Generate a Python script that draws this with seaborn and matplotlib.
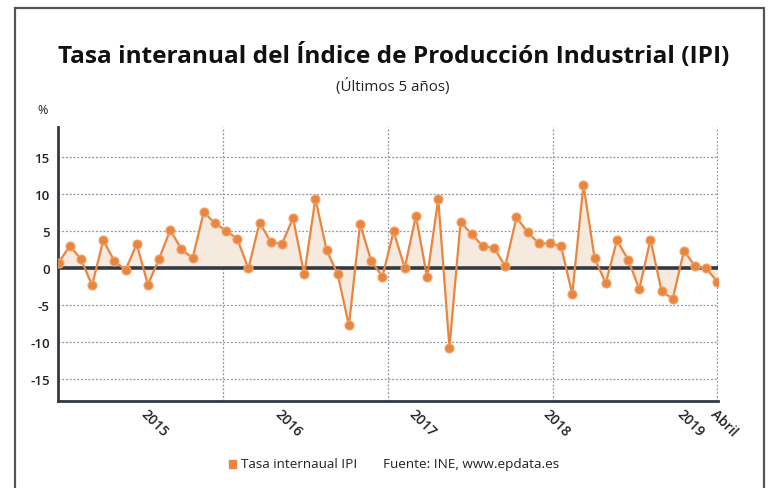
import matplotlib
matplotlib.use("Agg")
import matplotlib.pyplot as plt
import seaborn as sns
import pandas as pd
from matplotlib.patches import Rectangle

# monthly year-on-year IPI rate, May 2014 .. April 2019
tasa = [0.7, 2.9, 1.2, -2.4, 3.7, 0.9, -0.3, 3.2, -2.3, 1.2,
        5.1, 2.5, 1.3, 7.5, 6.0, 5.0, 3.9, -0.1, 6.1, 3.5,
        3.2, 6.7, -0.9, 9.3, 2.4, -0.9, -7.8, 5.9, 0.9, -1.2,
        4.9, 0.0, 7.0, -1.3, 9.3, -10.8, 6.2, 4.5, 2.9, 2.7,
        0.2, 6.8, 4.8, 3.3, 3.3, 2.9, -3.6, 11.2, 1.3, -2.1,
        3.7, 1.1, -2.9, 3.8, -3.2, -4.2, 2.3, 0.2, -0.1, -1.9]
meses = pd.date_range("2014-05-01", periods=len(tasa), freq="MS")
tick_labels = ["2015", "2016", "2017", "2018", "2019", "Abril"]
tick_pos = [8, 20, 32, 44, 56, 59]
vgrid_pos = [14.75, 29.5, 44.25, 59]
y_ticks = [-15, -10, -5, 0, 5, 10, 15]

df = pd.DataFrame({"idx": range(len(tasa)), "mes": meses, "tasa": tasa})

sns.set_style("white")
plt.rcParams["font.family"] = ["Open Sans", "DejaVu Sans"]

naranja = "#e8863f"
oscuro = "#333a44"
grid_c = "#8a94a6"

fig = plt.figure(figsize=(7.72, 4.89), dpi=100)
ax = fig.add_axes([58 / 772, 1 - 402 / 489, 660 / 772, 274 / 489])

ax.fill_between(df["idx"], df["tasa"], 0, color="#f6e9de", zorder=1, lw=0)
for y in y_ticks:
    if y != 0:
        ax.axhline(y, color=grid_c, lw=0.9, ls=(0, (1.5, 1.5)), zorder=0)
for x in vgrid_pos:
    ax.axvline(x, color=grid_c, lw=0.9, ls=(0, (1.5, 1.5)), zorder=0)
ax.axhline(0, color=oscuro, lw=2.6, zorder=2)

sns.lineplot(data=df, x="idx", y="tasa", ax=ax, color=naranja, lw=1.6,
             marker="o", markersize=6.5, markeredgecolor="#f2a56e",
             markeredgewidth=0.8, zorder=3)

ax.set_xlim(-0.05, 59.05)
ax.set_ylim(-18, 19)
ax.set_yticks(y_ticks)
ax.set_yticklabels([str(v) for v in y_ticks], fontsize=9.5, color="#222",
                   fontweight="semibold")
ax.set_xticks(tick_pos)
ax.set_xticklabels(tick_labels, rotation=-45, ha="left", va="top",
                   rotation_mode="anchor", fontsize=10, color="#222",
                   fontweight="semibold")
ax.tick_params(axis="x", length=4, width=1.2, color=oscuro, pad=0)
ax.tick_params(axis="y", length=0, pad=6)
ax.set_xlabel("")
ax.set_ylabel("")
for s in ["top", "right"]:
    ax.spines[s].set_visible(False)
for s in ["left", "bottom"]:
    ax.spines[s].set_color(oscuro)
    ax.spines[s].set_linewidth(2)

fig.text(394 / 772, 1 - 56 / 489, "Tasa interanual del Índice de Producción Industrial (IPI)",
         ha="center", va="center", fontsize=17.6, fontweight="bold", color="#111")
fig.text(393 / 772, 1 - 87 / 489, "(Últimos 5 años)", ha="center", va="center",
         fontsize=10.8, color="#222")
fig.text(37 / 772, 1 - 111 / 489, "%", ha="left", va="center", fontsize=9,
         color="#222")

# legend row
fig.patches.append(Rectangle((229 / 772, 1 - 469 / 489), 7 / 772, 8 / 489,
                             transform=fig.transFigure, color=naranja))
fig.text(241 / 772, 1 - 465 / 489, "Tasa internaual IPI", ha="left", va="center",
         fontsize=9.7, color="#222")
fig.text(383 / 772, 1 - 465 / 489, "Fuente: INE, www.epdata.es", ha="left",
         va="center", fontsize=9.7, color="#222")

# outer frame
fig.patches.append(Rectangle((15 / 772, -0.1), 749 / 772, 1.1 - 9 / 489,
                             transform=fig.transFigure, fill=False,
                             ec="#555", lw=1.6))

fig.savefig("out.png", dpi=100)
